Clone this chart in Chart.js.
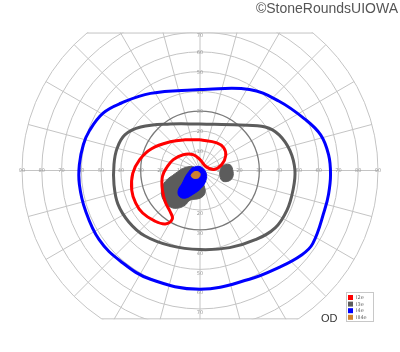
<!DOCTYPE html>
<html>
<head>
<meta charset="utf-8">
<script src="https://cdn.jsdelivr.net/npm/chart.js@4/dist/chart.umd.min.js"></script>
<style>
  html, body { margin: 0; padding: 0; background: #fff; }
  #wrap { position: relative; width: 400px; height: 352px; }
  #credit {
    position: absolute; right: 2px; top: 0px;
    font: 14px "Liberation Sans", Arial, sans-serif; color: #555;
  }
</style>
</head>
<body>
<div id="wrap">
  <canvas id="field"></canvas>
  <div id="credit">©StoneRoundsUIOWA</div>
</div>
<script>
// Goldmann visual field, right eye (OD). Values in degrees, x = temporal(+)/nasal(-), y = superior(+)/inferior(-)
const series = ['I2e', 'I3e', 'I4e', 'III4e']
const colors = ['#ff0000', '#5c5c5c', '#0000ff', '#d0802e']

// isopters (closed lines)
const i2eX = [0, 8.5, 12, 13, 11, 7, 3, 0, -3.5, -8.5, -13.5, -16.5, -19, -19, -17.5, -15, -14, -17.5, -23, -29, -32.5, -34.5, -34, -30.5, -24.5, -15, -7.5]
const i2eY = [15.5, 14, 11.5, 7.5, 3, 0.5, 2, 5.5, 8, 8, 5.5, 2, -3, -10, -16, -21, -24.5, -27, -25.5, -21.5, -16.5, -10, -1.5, 5.5, 11, 14.5, 15.5]
const i3eX = [0, 20, 33, 40, 45.5, 48, 47, 44, 38, 28, 15, 0, -15, -28, -36, -41.5, -43.5, -43.5, -42, -38, -30, -15]
const i3eY = [23.5, 23, 22, 18, 10, 0, -10, -20, -29, -35, -39, -40, -38, -33, -26, -17, -7, 3, 11, 18, 22, 23.5]
const i4eX = [0, 25, 40, 53, 61, 65, 66, 65, 63, 57, 51, 40, 25, 0, -25, -40, -51, -58, -61, -61, -59, -56, -49, -40, -25]
const i4eY = [41, 41, 35, 26, 18, 8, -2, -12, -20, -37, -43, -49, -55, -60, -55, -46, -35, -20, -7, 3, 13, 20, 29, 34, 39]

// scotomas (filled areas)
const i3eScotomaX = [-12.5, -7.5, -2.5, 0, 2, 2.5, 0, -5, -7.5, -11, -15, -18.5, -19.5, -17.5]
const i3eScotomaY = [-1.5, 1.5, 1.5, -2.5, -7.5, -11.5, -14, -15, -17.5, -19, -18.5, -15, -10, -5.5]
const blindSpotX = [11, 15, 16.5, 16.5, 14, 11, 10]
const blindSpotY = [2.5, 3, 0.5, -3.5, -5.5, -5, -1.5]
const i4eScotomaX = [-4, 0, 3, 3, 0.5, -3.5, -7.5, -10.5, -11, -9, -7]
const i4eScotomaY = [1.5, 2, -1, -5, -9, -12, -14, -13, -10, -6.5, -2.5]
const iii4eScotomaX = [-4.5, -3.5, -1.5, 0, -0.5, -2.5, -4]
const iii4eScotomaY = [-2.5, -1, -0.5, -1.5, -3.5, -4, -3.5]

// grid
const rings = [10, 20, 30, 40, 50, 60, 70, 80, 90]
const sideTicks = ['10', '20', '30', '40', '50', '60', '70', '80', '90']
const upTicks = ['10', '20', '30', '40', '50', '60', '70']
const meridianStep = 15
const fieldTop = 69.5
const fieldBottom = -75

function closed (xs, ys) {
  const pts = xs.map((x, i) => ({ x: x, y: ys[i] }))
  pts.push(pts[0])
  return pts
}

function lineSet (label, xs, ys, color, order) {
  return { label: label, data: closed(xs, ys), borderColor: color, borderWidth: 3, showLine: true, pointRadius: 0, tension: 0.4, fill: false, order: order }
}

function blobSet (label, xs, ys, color, order) {
  return { label: label, data: closed(xs, ys), borderColor: color, backgroundColor: color, borderWidth: 1, showLine: true, pointRadius: 0, tension: 0.4, fill: 'shape', order: order }
}

const gridPlugin = {
  id: 'goldmannGrid',
  beforeDatasetsDraw (chart) {
    const ctx = chart.ctx
    const sx = chart.scales.x
    const sy = chart.scales.y
    const cx = sx.getPixelForValue(0)
    const cy = sy.getPixelForValue(0)
    const k = sx.getPixelForValue(1) - cx
    const R = 90 * k
    const top = sy.getPixelForValue(fieldTop)
    const bottom = sy.getPixelForValue(fieldBottom)
    ctx.save()
    ctx.beginPath()
    ctx.rect(0, top - 0.5, chart.width, bottom - top + 1)
    ctx.clip()
    ctx.beginPath()
    ctx.arc(cx, cy, R + 1, 0, Math.PI * 2)
    ctx.clip()
    ctx.lineWidth = 1
    ctx.strokeStyle = '#c4c4c4'
    for (let a = 0; a < 360; a += meridianStep) {
      const t = a * Math.PI / 180
      ctx.beginPath()
      ctx.moveTo(cx, cy)
      ctx.lineTo(cx + Math.cos(t) * R, cy - Math.sin(t) * R)
      ctx.stroke()
    }
    rings.forEach(r => {
      ctx.beginPath()
      ctx.arc(cx, cy, r * k, 0, Math.PI * 2)
      if (r === 30) {
        ctx.strokeStyle = '#7a7a7a'
        ctx.lineWidth = 1.3
      } else {
        ctx.strokeStyle = '#c4c4c4'
        ctx.lineWidth = 1
      }
      ctx.stroke()
    })
    ctx.restore()

    // top and bottom edges of the field
    ctx.save()
    ctx.strokeStyle = '#c4c4c4'
    ctx.lineWidth = 1
    const wTop = Math.sqrt(R * R - (cy - top) * (cy - top))
    const wBot = Math.sqrt(R * R - (bottom - cy) * (bottom - cy))
    ctx.beginPath()
    ctx.moveTo(cx - wTop, top)
    ctx.lineTo(cx + wTop, top)
    ctx.moveTo(cx - wBot, bottom)
    ctx.lineTo(cx + wBot, bottom)
    ctx.stroke()

    // ring labels
    ctx.fillStyle = '#9a9a9a'
    ctx.font = '5px "DejaVu Sans", sans-serif'
    ctx.textAlign = 'center'
    ctx.textBaseline = 'middle'
    sideTicks.forEach((t, i) => {
      const d = rings[i] * k
      ctx.fillText(t, cx - d, cy)
      ctx.fillText(t, cx + d, cy)
    })
    upTicks.forEach((t, i) => {
      const d = rings[i] * k
      ctx.fillText(t, cx, Math.max(cy - d + 1, top + 3))
      ctx.fillText(t, cx, Math.min(cy + d + 4, bottom - 3))
    })
    ctx.restore()
  }
}

const legendPlugin = {
  id: 'boxLegend',
  afterDraw (chart) {
    const ctx = chart.ctx
    const x0 = 346
    const y0 = 292
    ctx.save()
    ctx.fillStyle = '#fff'
    ctx.fillRect(x0, y0, 27, 29)
    ctx.strokeStyle = '#c8c8c8'
    ctx.lineWidth = 1
    ctx.strokeRect(x0 + 0.5, y0 + 0.5, 27, 29)
    ctx.font = '5px "DejaVu Sans", sans-serif'
    ctx.textBaseline = 'middle'
    series.forEach((s, i) => {
      const y = y0 + 3 + i * 6.6
      ctx.fillStyle = colors[i]
      ctx.fillRect(x0 + 2, y, 5, 5)
      ctx.fillStyle = '#666'
      ctx.fillText(s, x0 + 10, y + 2.7)
    })
    ctx.fillStyle = '#333'
    ctx.font = '11px "Liberation Sans", Arial, sans-serif'
    ctx.textBaseline = 'alphabetic'
    ctx.fillText('OD', 321, 322)
    ctx.restore()
  }
}

const pxPerDeg = 178 / 90
const centerX = 200
const centerY = 170.5

// lower order is drawn on top
new Chart(document.getElementById('field'), {
  type: 'scatter',
  data: {
    datasets: [
      lineSet(series[0], i2eX, i2eY, colors[0], 1),
      lineSet(series[1], i3eX, i3eY, colors[1], 2),
      lineSet(series[2], i4eX, i4eY, colors[2], 3),
      blobSet(series[3], iii4eScotomaX, iii4eScotomaY, colors[3], 4),
      blobSet(series[2], i4eScotomaX, i4eScotomaY, colors[2], 5),
      blobSet(series[1], blindSpotX, blindSpotY, colors[1], 6),
      blobSet(series[1], i3eScotomaX, i3eScotomaY, colors[1], 7)
    ]
  },
  options: {
    responsive: true,
    maintainAspectRatio: false,
    animation: false,
    layout: { padding: 0 },
    scales: {
      x: { display: false, min: -centerX / pxPerDeg, max: (400 - centerX) / pxPerDeg },
      y: { display: false, min: -(352 - centerY) / pxPerDeg, max: centerY / pxPerDeg }
    },
    plugins: {
      legend: { display: false },
      tooltip: { enabled: false }
    }
  },
  plugins: [gridPlugin, legendPlugin]
})
</script>
</body>
</html>
